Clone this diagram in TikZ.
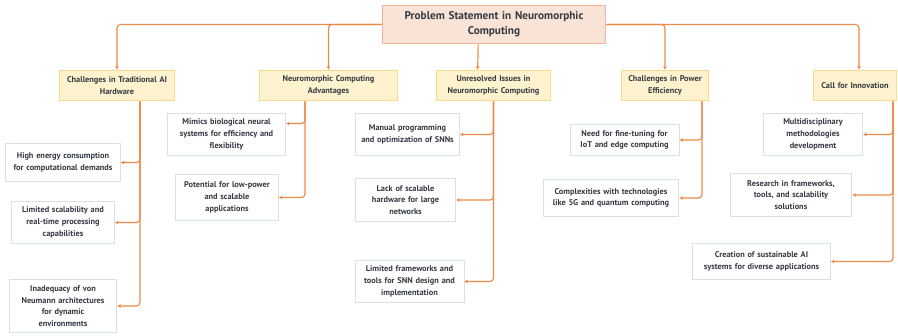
\documentclass[tikz,border=0pt]{standalone}
\usepackage{fontspec}
\setmainfont{PT Sans}[BoldFont={PT Sans Bold}]
\usepackage{xcolor}
\usepackage{tikz}
\usetikzlibrary{arrows.meta,positioning,calc}

\definecolor{linkc}{HTML}{EE8A45}
\definecolor{rootfill}{HTML}{F9E3D7}
\definecolor{rootline}{HTML}{F0B49A}
\definecolor{catfill}{HTML}{FEF3CE}
\definecolor{catline}{HTML}{F8DA8C}
\definecolor{leafline}{HTML}{D8E0E8}
\definecolor{inkc}{HTML}{353A43}

\begin{document}
\begin{tikzpicture}[x=0.03cm,y=-0.03cm,
    link/.style={draw=linkc,line width=1pt,rounded corners=3pt,-{Stealth[length=3pt,width=3.2pt]}},
    rootbox/.style={draw=rootline,fill=rootfill,line width=0.8pt,align=center,text=inkc,
      font=\bfseries\fontsize{9.6}{12.8}\selectfont,inner sep=1pt},
    catbox/.style={draw=catline,fill=catfill,line width=0.8pt,align=center,text=inkc,
      font=\bfseries\fontsize{7.1}{10}\selectfont,inner sep=1pt},
    leafbox/.style={draw=leafline,fill=white,line width=0.8pt,align=center,text=inkc,
      font=\bfseries\fontsize{7.1}{10}\selectfont,inner sep=1pt}]
    \useasboundingbox (0,0) rectangle (898,335);
    % root
    \node[rootbox,text width=189pt,minimum height=33pt] (root) at (494,24.5)
      {Problem Statement in Neuromorphic\\Computing};
    % categories
    \node[catbox,text width=96pt,minimum height=26.4pt] (hwchal) at (117,85.5)
      {Challenges in Traditional AI\\Hardware};
    \node[catbox,text width=116pt,minimum height=26.4pt] (advant) at (328.5,85.5)
      {Neuromorphic Computing\\Advantages};
    \node[catbox,text width=96pt,minimum height=26.4pt] (unres) at (493.5,85.5)
      {Unresolved Issues in\\Neuromorphic Computing};
    \node[catbox,text width=73pt,minimum height=26.4pt] (power) at (665,85.5)
      {Challenges in Power\\Efficiency};
    \node[catbox,text width=69pt,minimum height=26.4pt] (innov) at (855,85.5)
      {Call for Innovation};
    % leaves
    \node[leafbox,text width=96pt,minimum height=33pt] (hw1) at (63,162.5)
      {High energy consumption\\for computational demands};
    \node[leafbox,text width=86pt,minimum height=36.6pt] (hw2) at (63,222.5)
      {Limited scalability and\\real-time processing\\capabilities};
    \node[leafbox,text width=90pt,minimum height=46pt] (hw3) at (63,306)
      {Inadequacy of von\\Neumann architectures\\for dynamic\\environments};
    \node[leafbox,text width=99pt,minimum height=36.6pt] (adv1) at (226.5,134.5)
      {Mimics biological neural\\systems for efficiency and\\flexibility};
    \node[leafbox,text width=86pt,minimum height=40pt] (adv2) at (227,197.5)
      {Potential for low-power\\and scalable\\applications};
    \node[leafbox,text width=87pt,minimum height=36.6pt] (un1) at (407.5,134.5)
      {Manual programming\\and optimization of SNNs};
    \node[leafbox,text width=84pt,minimum height=37.4pt] (un2) at (405.5,200)
      {Lack of scalable\\hardware for large\\networks};
    \node[leafbox,text width=91pt,minimum height=36.6pt] (un3) at (409.5,281.5)
      {Limited frameworks and\\tools for SNN design and\\implementation};
    \node[leafbox,text width=91pt,minimum height=27pt] (pw1) at (624.5,140)
      {Need for fine-tuning for\\IoT and edge computing};
    \node[leafbox,text width=114pt,minimum height=32.3pt] (pw2) at (611,198)
      {Complexities with technologies\\like 5G and quantum computing};
    \node[leafbox,text width=83pt,minimum height=36.6pt] (in1) at (813,134.5)
      {Multidisciplinary\\methodologies\\development};
    \node[leafbox,text width=102pt,minimum height=37.4pt] (in2) at (791,195)
      {Research in frameworks,\\tools, and scalability\\solutions};
    \node[leafbox,text width=116pt,minimum height=30pt] (in3) at (761.5,261.5)
      {Creation of sustainable AI\\systems for diverse applications};
    % root to categories
    \draw[link] (root.west) -| (hwchal.north);
    \draw[link] (root.west) -| (advant.north);
    \draw[link] ([xshift=-13.5pt]root.south) -- ([xshift=-13.5pt]unres.north);
    \draw[link] (root.east) -| (power.north);
    \draw[link] (root.east) -| ([xshift=3.4pt]innov.north);
    % spines
    \coordinate (hwsp) at ($(hwchal.south)+(23,0)$);
    \coordinate (advsp) at ($(advant.south)+(-23.5,0)$);
    \coordinate (unsp) at (unres.south);
    \coordinate (pwsp) at ($(power.south)+(37,0)$);
    \coordinate (insp) at ($(innov.south)+(38,0)$);
    \foreach \c in {hw1,hw2,hw3}
      \draw[link] (hwsp) |- (\c.east);
    \draw[link] (advsp) |- ([yshift=9.4pt]adv1.east);
    \draw[link] (advsp) |- (adv2.east);
    \foreach \c in {un1,un2,un3}
      \draw[link] (unsp) |- (\c.east);
    \foreach \c in {pw1,pw2}
      \draw[link] (pwsp) |- (\c.east);
    \foreach \c in {in1,in2,in3}
      \draw[link] (insp) |- (\c.east);
\end{tikzpicture}
\end{document}
